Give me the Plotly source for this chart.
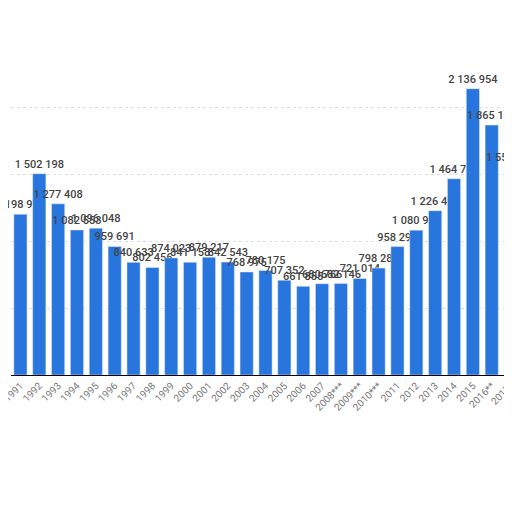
import plotly.graph_objects as go

# years and immigration counts
years = ["1991", "1992", "1993", "1994", "1995", "1996", "1997", "1998", "1999",
         "2000", "2001", "2002", "2003", "2004", "2005", "2006", "2007",
         "2008***", "2009***", "2010***", "2011", "2012", "2013", "2014", "2015",
         "2016**", "2017*"]
values = [1198978, 1502198, 1277408, 1082553, 1096048, 959691, 840633, 802456, 874023,
          841158, 879217, 842543, 768975, 780175, 707352, 661855, 680766,
          682146, 721014, 798282, 958299, 1080936, 1226493, 1464724, 2136954,
          1865122, 1550721]

labels = [f"{v:,}".replace(",", " ") for v in values]

fig = go.Figure()
fig.add_trace(go.Bar(
    x=years, y=values,
    marker_color="#2876dd",
    text=labels, textposition="outside", textangle=0,
    constraintext="none",
    textfont=dict(size=11, color="#444", family="Roboto", weight=500),
    cliponaxis=False,
))

# the page puts the figure ~8px in from the corner, margins account for that
fig.update_layout(
    width=512, height=512,
    margin=dict(l=3, r=0, t=32, b=145),
    plot_bgcolor="white", paper_bgcolor="white",
    bargap=0.3,
    showlegend=False,
)
fig.update_xaxes(
    tickangle=-45, tickfont=dict(size=10, color="#777", family="Roboto"),
    showline=True, linecolor="black", linewidth=1, ticks="",
    automargin=False,
)
fig.update_yaxes(
    range=[0, 2500000], dtick=500000, showticklabels=False,
    gridcolor="#e0e0e0", griddash="dot", zeroline=False,
    automargin=False,
)

fig.write_html("out.html")
